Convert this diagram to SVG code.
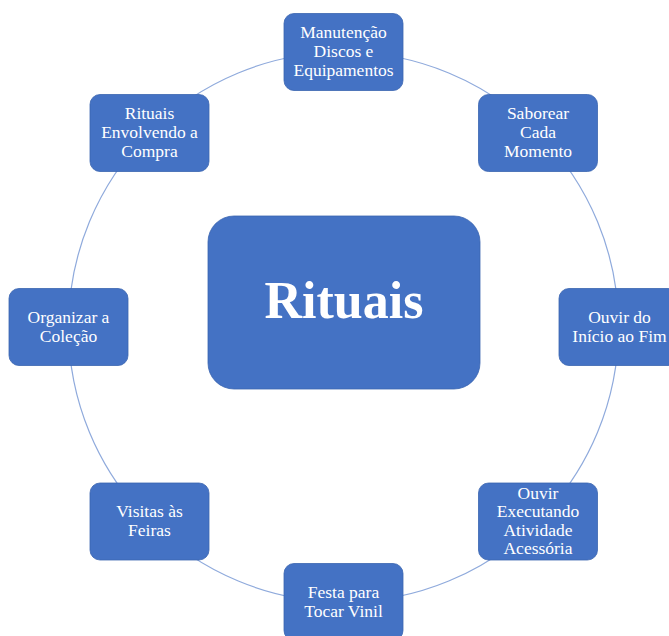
<svg xmlns="http://www.w3.org/2000/svg" width="669" height="636" viewBox="0 0 669 636">
<style>
.conn{fill:none;stroke:#8FAADC;stroke-width:1.2}
.node rect{fill:#4472C4;stroke:#3A64B0;stroke-width:0.8}
.node text{font-family:"Liberation Serif","Times New Roman",serif;font-size:17.5px;fill:#fff;text-anchor:middle}
.center text{font-size:52px;font-weight:bold}
</style>
<rect width="669" height="636" fill="#fff"/>
<g id="connectors">
<path class="conn" d="M343.5 52 A275 275 0 0 1 537.95 132.55"/>
<path class="conn" d="M537.95 132.55 A275 275 0 0 1 618.5 327"/>
<path class="conn" d="M618.5 327 A275 275 0 0 1 537.95 521.45"/>
<path class="conn" d="M537.95 521.45 A275 275 0 0 1 343.5 602"/>
<path class="conn" d="M343.5 602 A275 275 0 0 1 149.05 521.45"/>
<path class="conn" d="M149.05 521.45 A275 275 0 0 1 68.5 327"/>
<path class="conn" d="M68.5 327 A275 275 0 0 1 149.05 132.55"/>
<path class="conn" d="M149.05 132.55 A275 275 0 0 1 343.5 52"/>
</g>
<g id="center" class="node center">
<rect x="208" y="216" width="272" height="173" rx="26"/>
<text x="344" y="318">Rituais</text>
</g>
<g id="n-manutencao" class="node">
<rect x="284" y="13.5" width="119" height="77" rx="10"/>
<text x="343.5" y="38">Manutenção</text>
<text x="343.5" y="57">Discos e</text>
<text x="343.5" y="76">Equipamentos</text>
</g>
<g id="n-saborear" class="node">
<rect x="478.5" y="94.5" width="119" height="77" rx="10"/>
<text x="538" y="119">Saborear</text>
<text x="538" y="138">Cada</text>
<text x="538" y="157">Momento</text>
</g>
<g id="n-ouvir-fim" class="node">
<rect x="559" y="288.5" width="119" height="77" rx="10"/>
<text x="619.5" y="323">Ouvir do</text>
<text x="619.5" y="342">Início ao Fim</text>
</g>
<g id="n-ouvir-exec" class="node">
<rect x="478.5" y="483" width="119" height="77" rx="10"/>
<text x="538" y="498.5">Ouvir</text>
<text x="538" y="517">Executando</text>
<text x="538" y="535.5">Atividade</text>
<text x="538" y="554">Acessória</text>
</g>
<g id="n-festa" class="node">
<rect x="284" y="563.5" width="119" height="77" rx="10"/>
<text x="343.5" y="597.5">Festa para</text>
<text x="343.5" y="616.5">Tocar Vinil</text>
</g>
<g id="n-visitas" class="node">
<rect x="90" y="483" width="119" height="77" rx="10"/>
<text x="149.5" y="517">Visitas às</text>
<text x="149.5" y="536">Feiras</text>
</g>
<g id="n-organizar" class="node">
<rect x="9" y="288.5" width="119" height="77" rx="10"/>
<text x="68.5" y="323">Organizar a</text>
<text x="68.5" y="342">Coleção</text>
</g>
<g id="n-compra" class="node">
<rect x="90" y="94.5" width="119" height="77" rx="10"/>
<text x="149.5" y="119">Rituais</text>
<text x="149.5" y="138">Envolvendo a</text>
<text x="149.5" y="157">Compra</text>
</g>
</svg>
